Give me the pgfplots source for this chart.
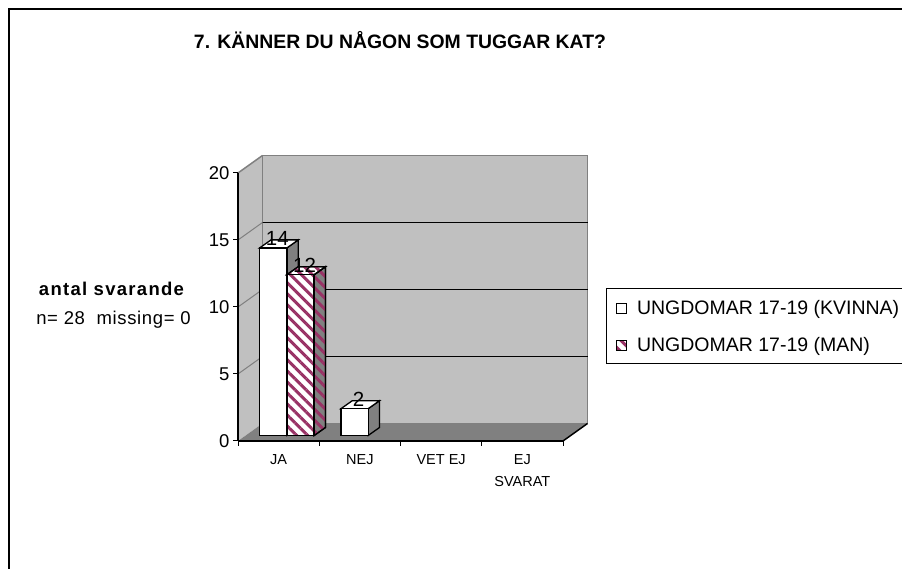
\documentclass[border=0pt]{standalone}
\usepackage{fontspec}
\setmainfont{Liberation Sans}
\usepackage{pgfplots}
\pgfplotsset{compat=1.18}
\usetikzlibrary{patterns.meta}
\definecolor{wall}{HTML}{C0C0C0}
\definecolor{floorc}{HTML}{808080}
\definecolor{plum}{HTML}{993366}
\tikzset{
  hatch/.style={fill=white, postaction={pattern color=plum, pattern={Lines[angle=-45,distance=7.8pt,line width=3pt]}}},
  hatchgray/.style={fill=floorc, postaction={pattern color=plum, pattern={Lines[angle=-45,distance=7.8pt,line width=3pt]}}}
}
\begin{document}
\begin{tikzpicture}
\useasboundingbox (0,0) rectangle (902pt,569pt);
\draw[line width=2pt] (9pt,-10pt) -- (9pt,560pt) -- (915pt,560pt);
\node[anchor=base, font=\bfseries\fontsize{19.4}{24}\selectfont] at (400pt,520.5pt) {7. KÄNNER DU NÅGON SOM TUGGAR KAT?};
\node[anchor=base, font=\bfseries\fontsize{18.5}{22}\selectfont\addfontfeatures{LetterSpace=7}] at (111.5pt,273pt) {antal svarande};
\node[anchor=base, font=\fontsize{18.5}{22}\selectfont\addfontfeatures{LetterSpace=3.5}] at (113.5pt,244pt) {n= 28~\ missing= 0};

% front plane: walls, floor, axes
\begin{axis}[
  at={(238pt,128pt)}, anchor=south west,
  scale only axis, width=325pt, height=268pt,
  xmin=-0.5, xmax=3.5, ymin=0, ymax=20,
  clip=false, axis on top,
  axis x line*=bottom, axis y line*=left,
  axis line style={line width=1.3pt, black, -},
  ytick={0,5,10,15,20},
  xtick={0,1,2,3},
  xticklabels={JA,NEJ,VET EJ,{EJ\\SVARAT}},
  minor xtick={-0.5,0.5,1.5,2.5,3.5},
  tick align=outside, major tick length=5pt, minor tick length=5pt,
  tick style={black, line width=1pt},
  major x tick style={draw=none},
  /pgf/number format/assume math mode=true,
  yticklabel style={font=\fontsize{18.5}{22}\selectfont},
  xticklabel style={font=\fontsize{14.5}{22}\selectfont, align=center, yshift=-5pt},
]
\fill[wall] (axis cs:-0.5,0) -- (axis cs:-0.5,20) -- (axis cs:-0.1985,21.306) -- (axis cs:-0.1985,1.306) -- cycle;
\fill[wall] (axis cs:-0.1985,1.306) rectangle (axis cs:3.8015,21.306);
\draw[floorc, line width=1.5pt] (axis cs:-0.1985,1.306) rectangle (axis cs:3.8015,21.306);
\draw[black, line width=1pt] (axis cs:-0.1985,6.306) -- (axis cs:3.8015,6.306);
\draw[black, line width=1pt] (axis cs:-0.1985,11.306) -- (axis cs:3.8015,11.306);
\draw[black, line width=1pt] (axis cs:-0.1985,16.306) -- (axis cs:3.8015,16.306);
\draw[floorc, line width=1pt] (axis cs:-0.5,5) -- (axis cs:-0.1985,6.306);
\draw[floorc, line width=1pt] (axis cs:-0.5,10) -- (axis cs:-0.1985,11.306);
\draw[floorc, line width=1pt] (axis cs:-0.5,15) -- (axis cs:-0.1985,16.306);
\draw[floorc, line width=1.5pt] (axis cs:-0.5,20) -- (axis cs:-0.1985,21.306);
\fill[floorc] (axis cs:-0.5,0) -- (axis cs:3.5,0) -- (axis cs:3.8015,1.306) -- (axis cs:-0.1985,1.306) -- cycle;
\draw[black, line width=1.5pt] (axis cs:-0.5,0) -- (axis cs:3.5,0) -- (axis cs:3.8015,1.306);
\end{axis}

% bar plane
\begin{axis}[
  at={(246.3pt,133.5pt)}, anchor=south west,
  scale only axis, width=325pt, height=268pt,
  xmin=-0.5, xmax=3.5, ymin=0, ymax=20,
  hide axis, clip=false,
  /pgf/number format/assume math mode=true,
  legend style={at={(1.1068,0.5485)}, anchor=north west, draw=black, line width=1pt, fill=white,
    inner xsep=9.5pt, inner ysep=9.7pt, font=\fontsize{19.5}{23}\selectfont,
    row sep=19pt, column sep=10pt,
    nodes={inner sep=0pt, text height=16pt, text depth=2pt}},
  legend cell align=left,
  legend image code/.code={\draw[#1, line width=1pt] (0pt,-5.5pt) rectangle (10pt,4.5pt);},
  nodes near coords style={font=\fontsize{20.5}{24}\selectfont, anchor=south, inner sep=2pt},
]
% KVINNA: side and top faces
\addplot[forget plot, fill=floorc, draw=black, line width=1.3pt] coordinates {(0,0) (0,14) (0.1395,14.597) (0.1395,0.597)} -- cycle;
\addplot[forget plot, fill=white, draw=black, line width=1.3pt] coordinates {(-0.335,14) (0,14) (0.1395,14.597) (-0.1955,14.597)} -- cycle;
\addplot[forget plot, fill=floorc, draw=black, line width=1.3pt] coordinates {(1,0) (1,2) (1.1395,2.597) (1.1395,0.597)} -- cycle;
\addplot[forget plot, fill=white, draw=black, line width=1.3pt] coordinates {(0.665,2) (1,2) (1.1395,2.597) (0.8045,2.597)} -- cycle;
% KVINNA front faces
\addplot[ybar, bar width=0.335, bar shift=-0.1675, fill=white, draw=black, line width=1.3pt,
  nodes near coords, every node near coord/.append style={xshift=-9.6pt}]
  coordinates {(0,14) (1,2)};
\addlegendentry{UNGDOMAR 17-19 (KVINNA)\hspace{15pt}}
% MAN: side and top faces
\addplot[forget plot, hatchgray, draw=black, line width=1.3pt] coordinates {(0.335,0) (0.335,12) (0.4745,12.597) (0.4745,0.597)} -- cycle;
\addplot[forget plot, hatch, draw=black, line width=1.3pt] coordinates {(0,12) (0.335,12) (0.4745,12.597) (0.1395,12.597)} -- cycle;
% MAN front face
\addplot[ybar, bar width=0.335, bar shift=0.1675, hatch, draw=black, line width=1.3pt,
  nodes near coords, every node near coord/.append style={xshift=17.6pt}]
  coordinates {(0,12)};
\addlegendentry{UNGDOMAR 17-19 (MAN)}
\end{axis}
\end{tikzpicture}
\end{document}
